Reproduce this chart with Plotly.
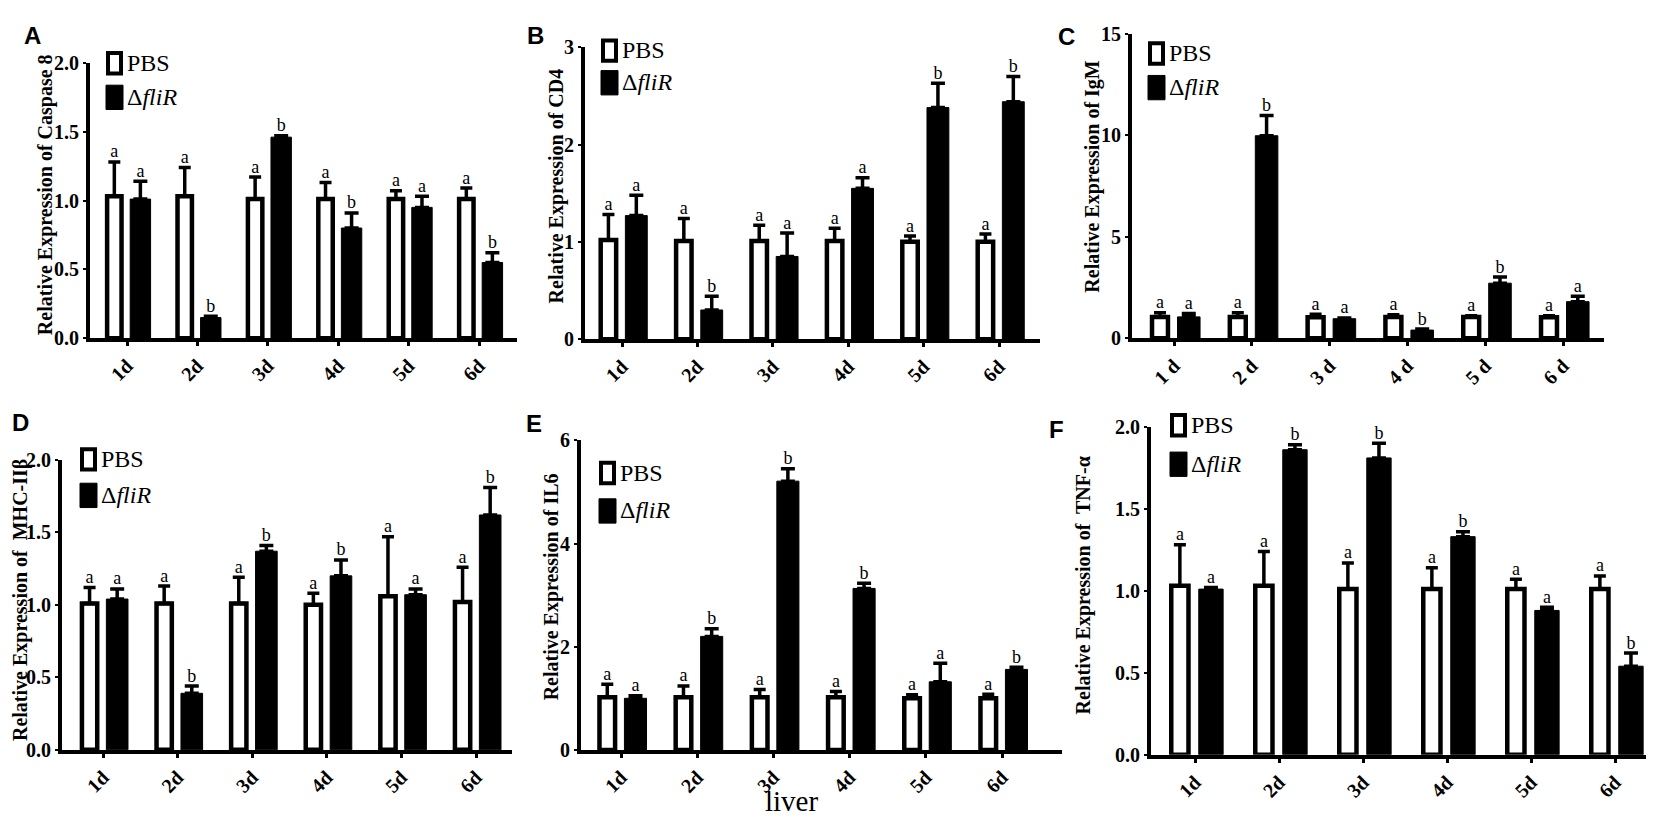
import plotly.graph_objects as go

W, H = 1654, 821

days = ["1d", "2d", "3d", "4d", "5d", "6d"]
days_spaced = ["1 d", "2 d", "3 d", "4 d", "5 d", "6 d"]

# A - Caspase 8
casp8_pbs = [1.03, 1.03, 1.01, 1.01, 1.01, 1.01]
casp8_pbs_sem = [0.25, 0.21, 0.16, 0.12, 0.06, 0.08]
casp8_flir = [1.01, 0.15, 1.46, 0.80, 0.95, 0.55]
casp8_flir_sem = [0.13, 0.01, 0.01, 0.11, 0.08, 0.07]
casp8_pbs_sig = ["a", "a", "a", "a", "a", "a"]
casp8_flir_sig = ["a", "b", "b", "b", "a", "b"]

# B - CD4
cd4_pbs = [1.02, 1.01, 1.01, 1.01, 1.00, 1.00]
cd4_pbs_sem = [0.26, 0.23, 0.16, 0.13, 0.06, 0.08]
cd4_flir = [1.27, 0.30, 0.85, 1.55, 2.38, 2.44]
cd4_flir_sem = [0.21, 0.14, 0.24, 0.11, 0.25, 0.26]
cd4_pbs_sig = ["a", "a", "a", "a", "a", "a"]
cd4_flir_sig = ["a", "b", "a", "a", "b", "b"]

# C - IgM
igm_pbs = [1.05, 1.05, 1.03, 1.05, 1.05, 1.03]
igm_pbs_sem = [0.20, 0.20, 0.15, 0.10, 0.05, 0.07]
igm_flir = [1.05, 9.97, 0.96, 0.40, 2.71, 1.80]
igm_flir_sem = [0.17, 1.00, 0.04, 0.05, 0.30, 0.27]
igm_pbs_sig = ["a", "a", "a", "a", "a", "a"]
igm_flir_sig = ["a", "b", "a", "b", "b", "a"]

# D - MHC-IIb
mhc_pbs = [1.01, 1.01, 1.01, 1.00, 1.06, 1.02]
mhc_pbs_sem = [0.11, 0.12, 0.18, 0.08, 0.41, 0.24]
mhc_flir = [1.04, 0.39, 1.37, 1.20, 1.07, 1.62]
mhc_flir_sem = [0.07, 0.05, 0.04, 0.11, 0.04, 0.19]
mhc_pbs_sig = ["a", "a", "a", "a", "a", "a"]
mhc_flir_sig = ["a", "b", "b", "b", "a", "b"]

# E - IL6
il6_pbs = [1.02, 1.02, 1.02, 1.02, 1.00, 1.00]
il6_pbs_sem = [0.25, 0.22, 0.15, 0.11, 0.07, 0.08]
il6_flir = [1.00, 2.20, 5.21, 3.13, 1.32, 1.56]
il6_flir_sem = [0.05, 0.15, 0.24, 0.10, 0.36, 0.04]
il6_pbs_sig = ["a", "a", "a", "a", "a", "a"]
il6_flir_sig = ["a", "b", "b", "b", "a", "b"]

# F - TNF-a
tnf_pbs = [1.03, 1.03, 1.01, 1.01, 1.01, 1.01]
tnf_pbs_sem = [0.25, 0.21, 0.16, 0.13, 0.06, 0.08]
tnf_flir = [1.01, 1.86, 1.81, 1.33, 0.88, 0.54]
tnf_flir_sem = [0.01, 0.03, 0.09, 0.03, 0.02, 0.08]
tnf_pbs_sig = ["a", "a", "a", "a", "a", "a"]
tnf_flir_sig = ["a", "b", "b", "b", "a", "b"]

panels = [
    dict(letter="A", title="Relative Expression of Caspase 8", ticks=days,
         pbs=casp8_pbs, pbs_sem=casp8_pbs_sem, flir=casp8_flir, flir_sem=casp8_flir_sem,
         pbs_sig=casp8_pbs_sig, flir_sig=casp8_flir_sig, ymax=2.0, dtick=0.5, fmt=".1f"),
    dict(letter="B", title="Relative Expression of CD4", ticks=days,
         pbs=cd4_pbs, pbs_sem=cd4_pbs_sem, flir=cd4_flir, flir_sem=cd4_flir_sem,
         pbs_sig=cd4_pbs_sig, flir_sig=cd4_flir_sig, ymax=3, dtick=1, fmt="d"),
    dict(letter="C", title="Relative Expression of IgM", ticks=days_spaced,
         pbs=igm_pbs, pbs_sem=igm_pbs_sem, flir=igm_flir, flir_sem=igm_flir_sem,
         pbs_sig=igm_pbs_sig, flir_sig=igm_flir_sig, ymax=15, dtick=5, fmt="d"),
    dict(letter="D", title="Relative Expression of  MHC-IIβ", ticks=days,
         pbs=mhc_pbs, pbs_sem=mhc_pbs_sem, flir=mhc_flir, flir_sem=mhc_flir_sem,
         pbs_sig=mhc_pbs_sig, flir_sig=mhc_flir_sig, ymax=2.0, dtick=0.5, fmt=".1f"),
    dict(letter="E", title="Relative Expression of IL6", ticks=days,
         pbs=il6_pbs, pbs_sem=il6_pbs_sem, flir=il6_flir, flir_sem=il6_flir_sem,
         pbs_sig=il6_pbs_sig, flir_sig=il6_flir_sig, ymax=6, dtick=2, fmt="d"),
    dict(letter="F", title="Relative Expression of  TNF-α", ticks=days,
         pbs=tnf_pbs, pbs_sem=tnf_pbs_sem, flir=tnf_flir, flir_sem=tnf_flir_sem,
         pbs_sig=tnf_pbs_sig, flir_sig=tnf_flir_sig, ymax=2.0, dtick=0.5, fmt=".1f"),
]

# pixel layout of each panel: axis box, first/last tick, legend, title, letter
boxes = [
    dict(left=82, t1=119, t6=471, right=509, top=45, bottom=328,
         leg=(98, 33, 68), ttl=(37, 181), let=(24, 17)),
    dict(left=577, t1=614, t6=991, right=1032, top=29, bottom=329,
         leg=(593, 20, 53), ttl=(548, 172), let=(527, 17)),
    dict(left=1124, t1=1166, t6=1555, right=1596, top=15, bottom=328,
         leg=(1140, 23, 58), ttl=(1085, 162), let=(1058, 18)),
    dict(left=54, t1=95, t6=468, right=504, top=453, bottom=751,
         leg=(72, 440, 477), ttl=(12, 597), let=(12, 415)),
    dict(left=573, t1=613, t6=994, right=1054, top=433, bottom=751,
         leg=(591, 454, 493), ttl=(543, 584), let=(526, 416)),
    dict(left=1143, t1=1187, t6=1607, right=1651, top=419, bottom=756,
         leg=(1162, 405, 445), ttl=(1075, 582), let=(1048, 422)),
]

PBS_C, FLIR_C = -0.18, 0.19
PBS_W, FLIR_W = 0.205, 0.29
SERIF = "Liberation Serif"


def px(x):
    return x / W


def py(y):
    return 1 - y / H


fig = go.Figure()
shapes, annotations = [], []

for k, (p, b) in enumerate(zip(panels, boxes), start=1):
    xa, ya = f"x{k}", f"y{k}"
    xs = list(range(len(p["ticks"])))

    fig.add_trace(go.Bar(
        x=xs, y=p["pbs"], width=PBS_W, offset=PBS_C - PBS_W / 2,
        marker=dict(color="white", line=dict(color="black", width=4.5)),
        error_y=dict(type="data", array=p["pbs_sem"], arrayminus=[0] * 6, symmetric=False,
                     color="black", thickness=3.5, width=6),
        xaxis=xa, yaxis=ya, showlegend=False))
    fig.add_trace(go.Bar(
        x=xs, y=p["flir"], width=FLIR_W, offset=FLIR_C - FLIR_W / 2,
        marker=dict(color="black", line=dict(color="black", width=1)),
        error_y=dict(type="data", array=p["flir_sem"], arrayminus=[0] * 6, symmetric=False,
                     color="black", thickness=3.5, width=7),
        xaxis=xa, yaxis=ya, showlegend=False))

    # significance letters above error bars
    fig.add_trace(go.Scatter(
        x=[i + PBS_C for i in xs], y=[v + e for v, e in zip(p["pbs"], p["pbs_sem"])],
        text=p["pbs_sig"], mode="text", textposition="top center",
        textfont=dict(family=SERIF, size=18, color="black"),
        xaxis=xa, yaxis=ya, showlegend=False, cliponaxis=False))
    fig.add_trace(go.Scatter(
        x=[i + FLIR_C for i in xs], y=[v + e for v, e in zip(p["flir"], p["flir_sem"])],
        text=p["flir_sig"], mode="text", textposition="top center",
        textfont=dict(family=SERIF, size=18, color="black"),
        xaxis=xa, yaxis=ya, showlegend=False, cliponaxis=False))

    sp = (b["t6"] - b["t1"]) / 5
    xr = [-(b["t1"] - b["left"]) / sp, 5 + (b["right"] - b["t6"]) / sp]
    axis_font = dict(family=SERIF, size=20, color="black", weight="bold")
    fig.layout[f"xaxis{k}"] = dict(
        domain=[px(b["left"]), px(b["right"])], range=xr, anchor=ya,
        tickvals=xs, ticktext=p["ticks"], tickangle=-45, tickfont=axis_font,
        showline=True, linewidth=4, linecolor="black", ticks="outside",
        ticklen=4, tickwidth=3, tickcolor="black", showgrid=False, zeroline=False)
    fig.layout[f"yaxis{k}"] = dict(
        domain=[py(b["bottom"]), py(b["top"])], range=[0, p["ymax"]], anchor=xa,
        dtick=p["dtick"], tick0=0, tickformat=p["fmt"], tickfont=axis_font,
        showline=True, linewidth=4, linecolor="black", ticks="outside",
        ticklen=3, tickwidth=2, tickcolor="black", showgrid=False, zeroline=False)

    # legend swatches
    lx, ly1, ly2 = b["leg"]
    shapes.append(dict(type="rect", xref="paper", yref="paper",
                       x0=px(lx + 2), x1=px(lx + 15), y0=py(ly1 + 2), y1=py(ly1 + 23),
                       fillcolor="white", line=dict(color="black", width=4)))
    shapes.append(dict(type="rect", xref="paper", yref="paper",
                       x0=px(lx), x1=px(lx + 17), y0=py(ly2), y1=py(ly2 + 25),
                       fillcolor="black", line=dict(color="black", width=1)))
    annotations.append(dict(text="PBS", x=px(lx + 19), y=py(ly1 + 12), xref="paper", yref="paper",
                            xanchor="left", yanchor="middle", showarrow=False,
                            font=dict(family=SERIF, size=24, color="black")))
    annotations.append(dict(text="Δ<i>fliR</i>", x=px(lx + 19), y=py(ly2 + 12), xref="paper",
                            yref="paper", xanchor="left", yanchor="middle", showarrow=False,
                            font=dict(family=SERIF, size=24, color="black")))

    # y title and panel letter
    tx, ty = b["ttl"]
    annotations.append(dict(text=p["title"], x=px(tx), y=py(ty), xref="paper", yref="paper",
                            textangle=-90, showarrow=False, xanchor="center", yanchor="middle",
                            font=dict(family=SERIF, size=20, color="black", weight="bold")))
    cx, cy = b["let"]
    annotations.append(dict(text=p["letter"], x=px(cx), y=py(cy), xref="paper", yref="paper",
                            showarrow=False, xanchor="center", yanchor="middle",
                            font=dict(family="Liberation Sans", size=24, color="black",
                                      weight="bold")))

annotations.append(dict(text="liver", x=px(783), y=py(804), xref="paper", yref="paper",
                        showarrow=False, xanchor="center", yanchor="middle",
                        font=dict(family=SERIF, size=29, color="black")))

fig.update_layout(
    width=W, height=H,
    margin=dict(l=0, r=0, t=0, b=0),
    paper_bgcolor="white", plot_bgcolor="white",
    barmode="overlay",
    shapes=shapes, annotations=annotations,
)

fig.write_html("out.html")
